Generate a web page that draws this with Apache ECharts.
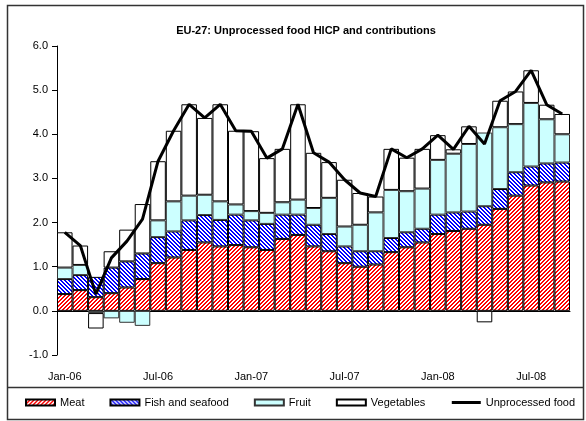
<!DOCTYPE html>
<html>
<head>
<meta charset="utf-8">
<script src="https://cdn.jsdelivr.net/npm/echarts@6/dist/echarts.min.js"></script>
<style>
html, body { margin: 0; padding: 0; background: #fff; }
#chart { width: 586px; height: 421px; }
</style>
</head>
<body>
<div id="chart"></div>
<script>
var months = ['Jan-06','Feb-06','Mar-06','Apr-06','May-06','Jun-06','Jul-06','Aug-06','Sep-06','Oct-06','Nov-06','Dec-06',
              'Jan-07','Feb-07','Mar-07','Apr-07','May-07','Jun-07','Jul-07','Aug-07','Sep-07','Oct-07','Nov-07','Dec-07',
              'Jan-08','Feb-08','Mar-08','Apr-08','May-08','Jun-08','Jul-08','Aug-08','Sep-08'];

// contributions, percentage points
var meat = [0.38, 0.47, 0.31, 0.40, 0.53, 0.72, 1.08, 1.21, 1.38, 1.55, 1.46, 1.49,
            1.44, 1.38, 1.63, 1.72, 1.46, 1.35, 1.08, 1.00, 1.05, 1.33, 1.44, 1.55,
            1.74, 1.81, 1.86, 1.95, 2.31, 2.61, 2.84, 2.91, 2.93];
var fish = [0.34, 0.34, 0.46, 0.58, 0.59, 0.58, 0.59, 0.59, 0.67, 0.62, 0.60, 0.69,
            0.61, 0.59, 0.55, 0.46, 0.49, 0.39, 0.38, 0.35, 0.30, 0.32, 0.34, 0.31,
            0.44, 0.42, 0.39, 0.42, 0.45, 0.53, 0.43, 0.43, 0.43];
var fruit = [0.26, 0.23, -0.05, -0.17, -0.27, -0.34, 0.38, 0.68, 0.56, 0.46, 0.42, 0.23,
             0.21, 0.25, 0.28, 0.34, 0.38, 0.82, 0.45, 0.60, 0.88, 1.09, 0.93, 0.91,
             1.24, 1.33, 1.53, 1.67, 1.40, 1.09, 1.44, 1.00, 0.64];
var vegetables = [0.80, 0.44, -0.35, 0.37, 0.72, 1.12, 1.34, 1.60, 2.07, 1.74, 2.20, 1.67,
                  1.81, 1.24, 1.21, 2.16, 1.25, 0.81, 1.06, 0.72, 0.36, 0.93, 0.76, 0.90,
                  0.56, 0.10, 0.40, -0.26, 0.60, 0.74, 0.74, 0.33, 0.46];
// annual rate of change, %
var unprocessed = [1.78, 1.48, 0.38, 1.20, 1.58, 2.08, 3.39, 4.08, 4.68, 4.37, 4.68, 4.08,
                   4.07, 3.46, 3.67, 4.68, 3.58, 3.37, 2.97, 2.67, 2.59, 3.67, 3.47, 3.67,
                   3.98, 3.66, 4.18, 3.78, 4.76, 4.97, 5.45, 4.67, 4.46];

var yTicks = [-1, 0, 1, 2, 3, 4, 5, 6];

var FONT = 'Arial, "Liberation Sans", sans-serif';

// small diagonal hatch tile, dir 1 = '/', dir -1 = '\'
function stripes(col, dir) {
    var c = document.createElement('canvas');
    c.width = 4; c.height = 4;
    var ctx = c.getContext('2d');
    ctx.fillStyle = '#fff';
    ctx.fillRect(0, 0, 4, 4);
    ctx.fillStyle = col;
    for (var i = 0; i < 4; i++) {
        var x = dir > 0 ? 3 - i : i;
        ctx.fillRect(x, i, 1, 1);
        ctx.fillRect((x + 1) % 4, i, 1, 1);
    }
    return c;
}

var chart = echarts.init(document.getElementById('chart'), null, { renderer: 'canvas' });

function barSeries(name, data, color, border) {
    return {
        name: name,
        type: 'bar',
        stack: 'contrib',
        data: data,
        barCategoryGap: '0%',
        itemStyle: { color: color, borderColor: border, borderWidth: 1 },
        emphasis: { disabled: true }
    };
}

chart.setOption({
    animation: false,
    textStyle: { fontFamily: FONT, color: '#000' },
    title: {
        text: 'EU-27: Unprocessed food HICP and contributions',
        left: 301, top: 20, textAlign: 'center',
        textStyle: { fontFamily: FONT, fontSize: 11, fontWeight: 'bold', color: '#000' }
    },
    graphic: [
        { type: 'rect', shape: { x: 7.5, y: 5.5, width: 576, height: 414 },
          style: { fill: 'none', stroke: '#333', lineWidth: 1.5 }, silent: true },
        { type: 'line', shape: { x1: 7, y1: 387.5, x2: 584, y2: 387.5 },
          style: { stroke: '#333', lineWidth: 1.5 }, silent: true }
    ],
    legend: {
        left: 25, top: 397, width: 570, padding: 0,
        itemWidth: 29, itemHeight: 6, itemGap: 25,
        textStyle: { fontFamily: FONT, fontSize: 11, color: '#000' },
        data: [
            { name: 'Meat', icon: 'rect' },
            { name: 'Fish and seafood', icon: 'rect' },
            { name: 'Fruit', icon: 'rect' },
            { name: 'Vegetables', icon: 'rect' },
            { name: 'Unprocessed food', itemStyle: { opacity: 0 }, lineStyle: { width: 3, color: '#000' } }
        ],
        selectedMode: false
    },
    grid: { left: 57, right: 16, top: 46, bottom: 66 },
    xAxis: [{
        type: 'category',
        data: months,
        axisLine: { onZero: true, lineStyle: { color: '#000', width: 1 } },
        axisTick: { interval: 5, length: 4, lineStyle: { color: '#000' } },
        axisLabel: { show: false }
    }, {
        type: 'category',
        data: months,
        position: 'bottom',
        axisLine: { show: false, onZero: false },
        axisTick: { show: false },
        axisLabel: { interval: 5, margin: 16, fontSize: 11, color: '#000', fontFamily: FONT }
    }],
    yAxis: {
        type: 'value',
        min: yTicks[0], max: yTicks[yTicks.length - 1], interval: 1,
        axisLine: { show: true, lineStyle: { color: '#000', width: 1 } },
        axisTick: { show: true, length: 5, lineStyle: { color: '#000' } },
        splitLine: { show: false },
        axisLabel: { margin: 9, fontSize: 11, color: '#000', fontFamily: FONT,
                     formatter: function (v) { return v.toFixed(1); } }
    },
    series: [
        barSeries('Meat', meat, { image: stripes('#ff0000', 1), repeat: 'repeat' }, '#000'),
        barSeries('Fish and seafood', fish, { image: stripes('#0000ff', -1), repeat: 'repeat' }, '#000'),
        barSeries('Fruit', fruit, '#ccffff', '#333'),
        barSeries('Vegetables', vegetables, '#ffffff', '#000'),
        {
            name: 'Unprocessed food',
            type: 'line',
            data: unprocessed,
            symbol: 'none',
            z: 5,
            lineStyle: { color: '#000', width: 3 },
            itemStyle: { color: '#000' },
            emphasis: { disabled: true }
        }
    ]
});
</script>
</body>
</html>
